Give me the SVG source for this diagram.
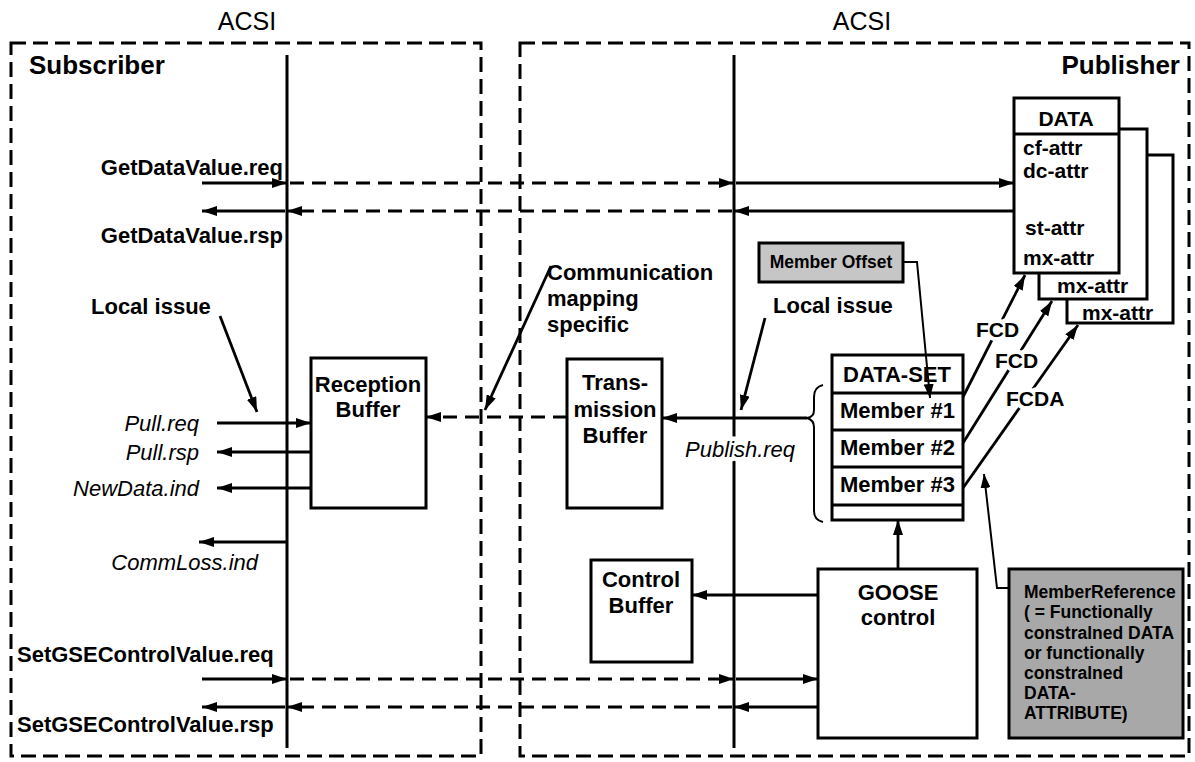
<svg xmlns="http://www.w3.org/2000/svg" width="1195" height="762" viewBox="0 0 1195 762">
<style>
.b{font-family:"Liberation Sans",Arial,sans-serif;font-weight:bold;font-size:22px;fill:#000}
.i{font-family:"Liberation Sans",Arial,sans-serif;font-style:italic;font-size:22px;fill:#000}
.r{font-family:"Liberation Sans",Arial,sans-serif;font-size:25px;fill:#000}
.big{font-size:26px}
.d{font-size:21px}
.s{font-size:17.5px}
.mid{text-anchor:middle}
.end{text-anchor:end}
.halo{stroke:#fff;stroke-width:9;stroke-linejoin:round;paint-order:stroke}
.frame{fill:none;stroke:#000;stroke-width:3;stroke-dasharray:15 7}
.box{fill:#fff;stroke:#000;stroke-width:3}
.vl{fill:none;stroke:#000;stroke-width:3}
.a{fill:none;stroke:#000;stroke-width:2.8;marker-end:url(#ah)}
.ad{fill:none;stroke:#000;stroke-width:2.8;stroke-dasharray:14 8;marker-end:url(#ah)}
.at{fill:none;stroke:#000;stroke-width:2;marker-end:url(#ahs)}
</style>
<defs>
<marker id="ah" markerUnits="userSpaceOnUse" markerWidth="15" markerHeight="10" refX="15" refY="5" orient="auto">
<path d="M0,0 L15,5 L0,10 z" fill="#000"/>
</marker>
<marker id="ahs" markerUnits="userSpaceOnUse" markerWidth="14" markerHeight="10" refX="14" refY="5" orient="auto">
<path d="M0,0 L14,5 L0,10 z" fill="#000"/>
</marker>
</defs>
<rect width="1195" height="762" fill="#fff"/>

<g id="subscriber">
<rect class="frame" x="11" y="43" width="470" height="713"/>
<text class="r mid" x="247" y="30">ACSI</text>
<text class="b big" x="29" y="74">Subscriber</text>
<line class="vl" x1="287" y1="55" x2="287" y2="748"/>
</g>

<g id="publisher">
<rect class="frame" x="520" y="43" width="669" height="713"/>
<text class="r mid" x="862" y="30">ACSI</text>
<text class="b big end" x="1180" y="74">Publisher</text>
<line class="vl" x1="734" y1="55" x2="734" y2="748"/>
</g>

<g id="labels-left">
<text class="b end" x="283" y="175">GetDataValue.req</text>
<text class="b end" x="283" y="243">GetDataValue.rsp</text>
<text class="b" x="91" y="314">Local issue</text>
<text class="i end" x="199" y="431">Pull.req</text>
<text class="i end" x="199" y="460">Pull.rsp</text>
<text class="i end" x="199" y="496">NewData.ind</text>
<text class="i end" x="258" y="570">CommLoss.ind</text>
<text class="b" x="17" y="662">SetGSEControlValue.req</text>
<text class="b" x="17" y="732">SetGSEControlValue.rsp</text>
</g>

<g id="labels-mid">
<text class="b" x="547" y="280">Communication</text>
<text class="b" x="547" y="306">mapping</text>
<text class="b" x="547" y="332">specific</text>
<text class="b" x="773" y="313">Local issue</text>
</g>

<g id="reception-buffer">
<rect class="box" x="311" y="358" width="115" height="150"/>
<text class="b mid" x="368" y="392">Reception</text>
<text class="b mid" x="368" y="417">Buffer</text>
</g>

<g id="transmission-buffer">
<rect class="box" x="567" y="359" width="95" height="149"/>
<text class="b mid" x="615" y="390">Trans-</text>
<text class="b mid" x="615" y="417">mission</text>
<text class="b mid" x="615" y="443">Buffer</text>
</g>

<g id="control-buffer">
<rect class="box" x="591" y="560" width="101" height="102"/>
<text class="b mid" x="641" y="587">Control</text>
<text class="b mid" x="641" y="613">Buffer</text>
</g>

<g id="goose-control">
<rect class="box" x="818" y="569" width="159" height="169"/>
<text class="b mid" x="898" y="600">GOOSE</text>
<text class="b mid" x="898" y="625">control</text>
</g>

<g id="data-set">
<rect class="box" x="832" y="355" width="131" height="165"/>
<line class="vl" x1="832" y1="393" x2="963" y2="393"/>
<line class="vl" x1="832" y1="430" x2="963" y2="430"/>
<line class="vl" x1="832" y1="467" x2="963" y2="467"/>
<line class="vl" x1="832" y1="505" x2="963" y2="505"/>
<text class="b mid" x="897" y="382">DATA-SET</text>
<text class="b" x="840" y="418">Member #1</text>
<text class="b" x="840" y="455">Member #2</text>
<text class="b" x="840" y="492">Member #3</text>
<path d="M823,385 Q814,387 814,397 L814,410 Q814,417 807,418 Q814,420 814,427 L814,511 Q814,520 823,522" fill="none" stroke="#000" stroke-width="2"/>
</g>

<g id="data">
<rect class="box" x="1067" y="155" width="106" height="168"/>
<text class="b d" x="1082" y="320">mx-attr</text>
<rect class="box" x="1039" y="129" width="108" height="170"/>
<text class="b d" x="1057" y="293">mx-attr</text>
<rect class="box" x="1014" y="98" width="105" height="175"/>
<line class="vl" x1="1014" y1="134" x2="1119" y2="134"/>
<text class="b d mid" x="1066" y="126">DATA</text>
<text class="b d" x="1023" y="155">cf-attr</text>
<text class="b d" x="1023" y="178">dc-attr</text>
<text class="b d" x="1025" y="235">st-attr</text>
<text class="b d" x="1023" y="265">mx-attr</text>
</g>

<g id="member-offset">
<rect x="759" y="243" width="144" height="39" fill="#c6c6c6" stroke="#000" stroke-width="3"/>
<text class="b s mid" x="831" y="268">Member Offset</text>
</g>

<g id="member-reference">
<rect x="1009" y="569" width="174" height="169" fill="#a8a8a8" stroke="#000" stroke-width="3"/>
<text class="b s" x="1024" y="598">MemberReference</text>
<text class="b s" x="1024" y="618">( = Functionally</text>
<text class="b s" x="1024" y="639">constralned DATA</text>
<text class="b s" x="1024" y="659">or functionally</text>
<text class="b s" x="1024" y="679">constralned</text>
<text class="b s" x="1024" y="699">DATA-</text>
<text class="b s" x="1024" y="719">ATTRIBUTE)</text>
</g>

<g id="connectors">
<path class="a" d="M202,183 L287,183"/>
<path class="ad" d="M290,183 L734,183"/>
<path class="a" d="M736,183 L1014,183"/>
<path class="a" d="M1014,211 L734,211"/>
<path class="ad" d="M732,211 L287,211"/>
<path class="a" d="M285,211 L202,211"/>

<path class="a" d="M220,316 L257,412"/>
<path class="a" d="M217,423 L311,423"/>
<path class="a" d="M311,452 L217,452"/>
<path class="a" d="M311,488 L217,488"/>
<path class="a" d="M287,542 L199,542"/>

<path class="a" d="M551,266 L485,410"/>
<path class="ad" d="M567,417 L426,417"/>

<path class="a" d="M765,318 L741,410"/>
<path class="a" d="M807,418 L662,418"/>

<path class="at" d="M903,262 L917,262 L930,398"/>
<path class="at" d="M1009,588 L997,588 L984,474"/>

<path class="a" d="M898,569 L898,520"/>
<path class="a" d="M818,595 L692,595"/>

<path class="a" d="M202,679 L287,679"/>
<path class="ad" d="M290,679 L734,679"/>
<path class="a" d="M736,679 L818,679"/>
<path class="a" d="M818,707 L734,707"/>
<path class="ad" d="M732,707 L287,707"/>
<path class="a" d="M285,707 L202,707"/>

<path class="a" d="M963,397 L1025,275"/>
<path class="a" d="M963,443 L1052,301"/>
<path class="a" d="M963,488 L1078,325"/>

<text class="b d halo" x="976" y="337">FCD</text>
<text class="b d halo" x="995" y="368">FCD</text>
<text class="b d halo" x="1006" y="406">FCDA</text>
<text class="i halo" x="685" y="457">Publish.req</text>
</g>
</svg>
